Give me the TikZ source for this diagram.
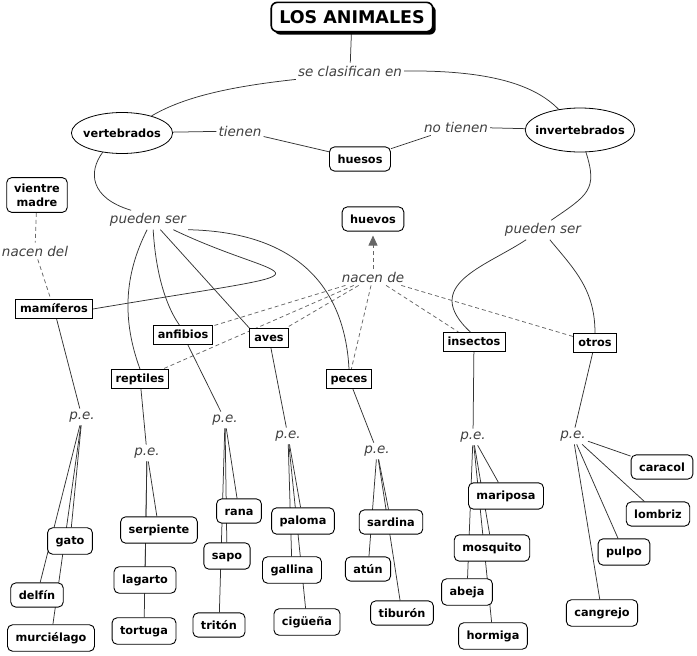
\documentclass[tikz,border=0pt]{standalone}
\usepackage{fontspec}
\setmainfont{DejaVu Sans}
\usetikzlibrary{shapes.geometric, shadows, backgrounds, arrows.meta}

\begin{document}
\begin{tikzpicture}[x=1pt, y=-1pt,
    conceptfont/.style={font=\bfseries\fontsize{11.3}{14}\selectfont},
    leafbox/.style={conceptfont, draw, fill=white, rounded corners=5pt, line width=0.9pt, inner xsep=8pt, inner ysep=7.7pt, text height=8.6pt},
    classbox/.style={conceptfont, draw, fill=white, line width=0.9pt, inner xsep=4.5pt, inner ysep=2pt, minimum height=19pt, text height=8.6pt, text depth=2.4pt},
    ovalbox/.style={conceptfont, draw, ellipse, fill=white, line width=0.8pt, inner ysep=0pt, minimum height=41pt},
    linkword/.style={text=black!75, inner xsep=2pt, inner ysep=3pt, font=\itshape\fontsize{13.5}{16}\selectfont},
    link/.style={draw=black!80, line width=0.75pt},
    dashlink/.style={draw=black!60, line width=0.75pt, dash pattern=on 4pt off 3pt},
]
\useasboundingbox (0,0) rectangle (697,656);

\node[draw, fill=white, rounded corners=6pt, line width=1.6pt, inner xsep=8pt, inner ysep=8pt,
  drop shadow={shadow xshift=3pt, shadow yshift=-3pt, fill=black, opacity=1},
  font=\bfseries\fontsize{17.5}{20}\selectfont] (title) at (352,17) {LOS ANIMALES};
\node[linkword] (clasif) at (350,71) {se clasifican en};
\node[ovalbox, inner xsep=-3pt] (vert) at (122,133) {vertebrados};
\node[ovalbox, inner xsep=-6pt, minimum height=44pt] (invert) at (580,130) {invertebrados};
\node[linkword] (tienen) at (240,131) {tienen};
\node[linkword] (notienen) at (456,127) {no tienen};
\node[leafbox] (huesos) at (360,159) {huesos};
\node[linkword] (puedenA) at (148,220) {pueden ser};
\node[linkword] (puedenB) at (543,230) {pueden ser};
\node[conceptfont, draw, fill=white, rounded corners=5pt, line width=0.9pt, inner xsep=7.5pt,
  inner ysep=6pt, align=center] (vientre) at (37,195) {vientre\\madre};
\node[linkword] (nacenDel) at (35,251) {nacen del};
\node[leafbox] (huevos) at (373,219) {huevos};
\node[linkword] (nacenDe) at (373,277) {nacen de};

\node[classbox] (mam) at (54,309) {mamíferos};
\node[classbox] (anf) at (183,335) {anfibios};
\node[classbox] (aves) at (269,338) {aves};
\node[classbox] (rep) at (140,379) {reptiles};
\node[classbox] (pec) at (349,379) {peces};
\node[classbox] (ins) at (474,342) {insectos};
\node[classbox] (otr) at (595,343) {otros};

\node[linkword] (pe1) at (82,417) {p.e.};
\node[linkword] (pe2) at (147,453) {p.e.};
\node[linkword] (pe3) at (225,420) {p.e.};
\node[linkword] (pe4) at (288,436) {p.e.};
\node[linkword] (pe5) at (377,451) {p.e.};
\node[linkword] (pe6) at (473,437) {p.e.};
\node[linkword] (pe7) at (573,436) {p.e.};

\node[leafbox] (gato) at (70,541) {gato};
\node[leafbox] (delfin) at (37,595) {delfín};
\node[leafbox] (murcielago) at (51,638) {murciélago};
\node[leafbox] (serpiente) at (159,530) {serpiente};
\node[leafbox] (lagarto) at (145,580) {lagarto};
\node[leafbox] (tortuga) at (144,631) {tortuga};
\node[leafbox] (rana) at (239,511) {rana};
\node[leafbox] (sapo) at (227,556) {sapo};
\node[leafbox] (triton) at (219,625) {tritón};
\node[leafbox] (paloma) at (303,521) {paloma};
\node[leafbox] (gallina) at (292,570) {gallina};
\node[leafbox] (ciguena) at (307,622) {cigüeña};
\node[leafbox] (sardina) at (391,522) {sardina};
\node[leafbox] (atun) at (368,569) {atún};
\node[leafbox] (tiburon) at (402,613) {tiburón};
\node[leafbox] (mariposa) at (506,496) {mariposa};
\node[leafbox] (mosquito) at (492,548) {mosquito};
\node[leafbox] (abeja) at (467,592) {abeja};
\node[leafbox] (hormiga) at (493,636) {hormiga};
\node[leafbox] (caracol) at (662,467) {caracol};
\node[leafbox] (lombriz) at (658,514) {lombriz};
\node[leafbox] (pulpo) at (624,552) {pulpo};
\node[leafbox] (cangrejo) at (602,613) {cangrejo};

\begin{scope}[on background layer]
\draw[link] (title) -- (clasif);
\draw[link] (clasif.south west) .. controls (235,86) and (185,96) .. (vert.30);
\draw[link] (clasif.east) .. controls (490,70) and (535,85) .. (invert.136);
\draw[link] (vert) -- (tienen);
\draw[link] (tienen) -- (huesos);
\draw[link] (huesos) -- (notienen);
\draw[link] (notienen) -- (invert);
\draw[link] (vert.225) .. controls (88,172) and (90,198) .. (puedenA.150);
\draw[link] (invert.-75) .. controls (598,190) and (588,195) .. (puedenB.50);

\draw[link] (puedenA.265) .. controls (124,275) and (122,320) .. (rep.north);
\draw[link] (puedenA.-62) .. controls (155,262) and (162,300) .. (anf.110);
\draw[link] (puedenA.-38) -- (aves.north west);
\draw[link] (puedenA.-21) .. controls (291,286) and (355,265) .. (mam.east);
\draw[link] (puedenA.south east) .. controls (300,232) and (345,290) .. (pec.north);
\draw[link] (puedenB.-150) .. controls (485,267) and (420,285) .. (ins.110);
\draw[link] (puedenB.-55) .. controls (575,270) and (595,290) .. (otr.north);

\draw[dashlink] (vientre) -- (nacenDel);
\draw[dashlink] (nacenDel) -- (mam);
\draw[dashlink, -{Triangle[length=10pt, width=9pt]}, shorten >=4pt] (nacenDe) -- (huevos);
\draw[dashlink] (nacenDe) -- (anf);
\draw[dashlink] (nacenDe) -- (aves);
\draw[dashlink] (nacenDe) -- (rep);
\draw[dashlink] (nacenDe) -- (pec);
\draw[dashlink] (nacenDe) -- (ins);
\draw[dashlink] (nacenDe) -- (otr);

\draw[link] (mam) -- (pe1);
\draw[link] (rep) -- (pe2);
\draw[link] (anf) -- (pe3);
\draw[link] (aves) -- (pe4);
\draw[link] (pec) -- (pe5);
\draw[link] (ins) -- (pe6);
\draw[link] (otr) -- (pe7);

\draw[link] (pe1) -- (gato);
\draw[link] (pe1) -- (delfin);
\draw[link] (pe1) -- (murcielago);
\draw[link] (pe2) -- (serpiente);
\draw[link] (pe2) -- (lagarto);
\draw[link] (pe2) -- (tortuga);
\draw[link] (pe3) -- (rana);
\draw[link] (pe3) -- (sapo);
\draw[link] (pe3) -- (triton);
\draw[link] (pe4) -- (paloma);
\draw[link] (pe4) -- (gallina);
\draw[link] (pe4) -- (ciguena);
\draw[link] (pe5) -- (sardina);
\draw[link] (pe5) -- (atun);
\draw[link] (pe5) -- (tiburon);
\draw[link] (pe6) -- (mariposa);
\draw[link] (pe6) -- (mosquito);
\draw[link] (pe6) -- (abeja);
\draw[link] (pe6) -- (hormiga);
\draw[link] (pe7) -- (caracol);
\draw[link] (pe7) -- (lombriz);
\draw[link] (pe7) -- (pulpo);
\draw[link] (pe7) -- (cangrejo);
\end{scope}
\end{tikzpicture}
\end{document}
